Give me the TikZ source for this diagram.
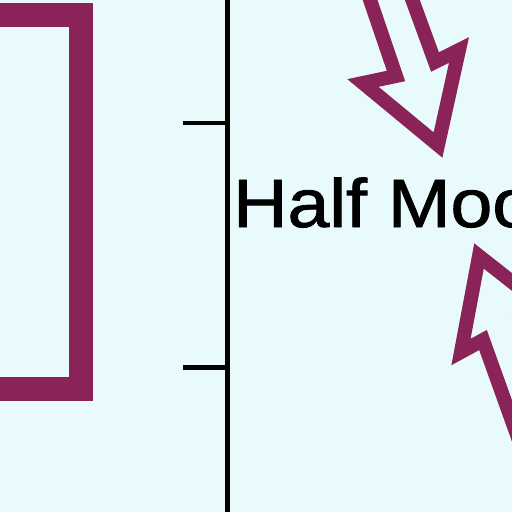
\documentclass[tikz,border=0pt]{standalone}
\usepackage{fontspec}
\setmainfont{Liberation Sans}
\newfontfamily\labelfont[FakeBold=1.2]{Liberation Sans}
\definecolor{bg}{RGB}{233,250,252}
\definecolor{plum}{RGB}{138,36,88}
\begin{document}
\begin{tikzpicture}[x=1pt,y=-1pt,
  framebox/.style={draw=plum,line width=24pt,line join=miter},
  hollowarrow/.style={draw=plum,line width=14pt,line join=miter,miter limit=10},
  axisline/.style={draw=black,line width=4.5pt}]
\useasboundingbox (0,0) rectangle (512,512);
\fill[bg] (0,0) rectangle (512,512);
\clip (0,0) rectangle (512,512);
% maroon frame on the left
\draw[framebox] (-80,15) rectangle (81,389);
% vertical axis with ticks
\coordinate (axtop) at (227.5,-10);
\coordinate (axbot) at (227.5,522);
\coordinate (t1) at (227.5,123);
\coordinate (t1l) at (183,123);
\coordinate (t2) at (227.5,367.5);
\coordinate (t2l) at (183,367.5);
\draw[axisline] (axtop) -- (axbot);
\draw[axisline] (t1l) -- (t1);
\draw[axisline] (t2l) -- (t2);
% label
\node[font=\labelfont\fontsize{68.4}{80}\selectfont, inner sep=0, anchor=base west, xscale=1.1] (label) at (233,227) {Half Moon};
% top hollow arrow (pointing down)
\draw[hollowarrow] (366,-12) -- (396,76) -- (363,83) -- (438,145) -- (459,50) -- (435,62) -- (408,-12);
% bottom hollow arrow (pointing up)
\draw[hollowarrow] (526,460) -- (483,340) -- (461,352) -- (479,256) -- (554,315) -- (521,322) -- (570,460);
\end{tikzpicture}
\end{document}
